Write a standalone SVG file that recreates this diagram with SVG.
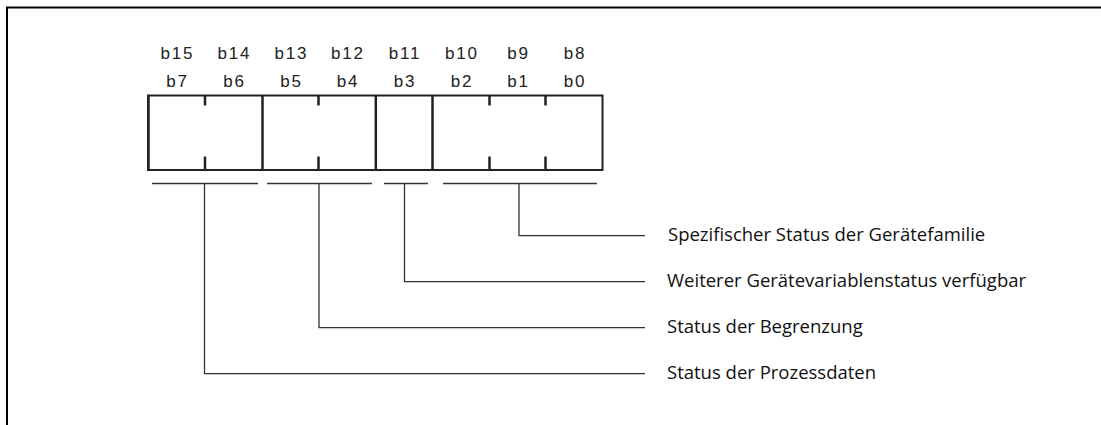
<svg xmlns="http://www.w3.org/2000/svg" width="1101" height="425" viewBox="0 0 1101 425">
<style>
.bit{font-family:"Liberation Sans",Arial,sans-serif;font-size:17px;fill:#222;text-anchor:middle;letter-spacing:1.8px}
.lbl{font-family:"Open Sans","Noto Sans",sans-serif;font-size:18.5px;fill:#111}
.frame{fill:none;stroke:#000;stroke-width:2}
.box{fill:none;stroke:#222;stroke-width:2}
.div{stroke:#222;stroke-width:2.5}
.con{fill:none;stroke:#333;stroke-width:1.3}
</style>
<rect width="1101" height="425" fill="#fff"/>
<path class="frame" d="M7,425 V7.5 H1101"/>
<g id="bits">
<text class="bit" x="177.5" y="58.5">b15</text>
<text class="bit" x="234.5" y="58.5">b14</text>
<text class="bit" x="291.5" y="58.5">b13</text>
<text class="bit" x="348" y="58.5">b12</text>
<text class="bit" x="405" y="58.5">b11</text>
<text class="bit" x="462" y="58.5">b10</text>
<text class="bit" x="518.5" y="58.5">b9</text>
<text class="bit" x="575" y="58.5">b8</text>
<text class="bit" x="177.5" y="87">b7</text>
<text class="bit" x="234.5" y="87">b6</text>
<text class="bit" x="291.5" y="87">b5</text>
<text class="bit" x="348" y="87">b4</text>
<text class="bit" x="405" y="87">b3</text>
<text class="bit" x="462" y="87">b2</text>
<text class="bit" x="518.5" y="87">b1</text>
<text class="bit" x="575" y="87">b0</text>
</g>
<g id="register">
<rect class="box" x="148" y="95.5" width="454.5" height="74.5"/>
<line class="div" x1="148.5" y1="95" x2="148.5" y2="171"/>
<line class="div" x1="262.5" y1="95" x2="262.5" y2="171"/>
<line class="div" x1="375.8" y1="95" x2="375.8" y2="171"/>
<line class="div" x1="432.5" y1="95" x2="432.5" y2="171"/>
<path class="div" d="M205,95 V105.5 M205,156.5 V170 M318.5,95 V105.5 M318.5,156.5 V170 M489.5,95 V105.5 M489.5,156.5 V170 M545.5,95 V105.5 M545.5,156.5 V170"/>
</g>
<g id="connectors">
<path class="con" d="M152,183.5 H258 M267,183.5 H372 M384,183.5 H428 M443,183.5 H597"/>
<path class="con" d="M519,183.5 V235.7 H645"/>
<path class="con" d="M404.5,183.5 V281.7 H645"/>
<path class="con" d="M319,183.5 V327.7 H645"/>
<path class="con" d="M204.5,183.5 V373.7 H645"/>
</g>
<g id="label1"><text class="lbl" x="668" y="240.7">Spezifischer Status der Gerätefamilie</text></g>
<g id="label2"><text class="lbl" x="667" y="286.7">Weiterer Gerätevariablenstatus verfügbar</text></g>
<g id="label3"><text class="lbl" x="667" y="332.7">Status der Begrenzung</text></g>
<g id="label4"><text class="lbl" x="667" y="379">Status der Prozessdaten</text></g>
</svg>
